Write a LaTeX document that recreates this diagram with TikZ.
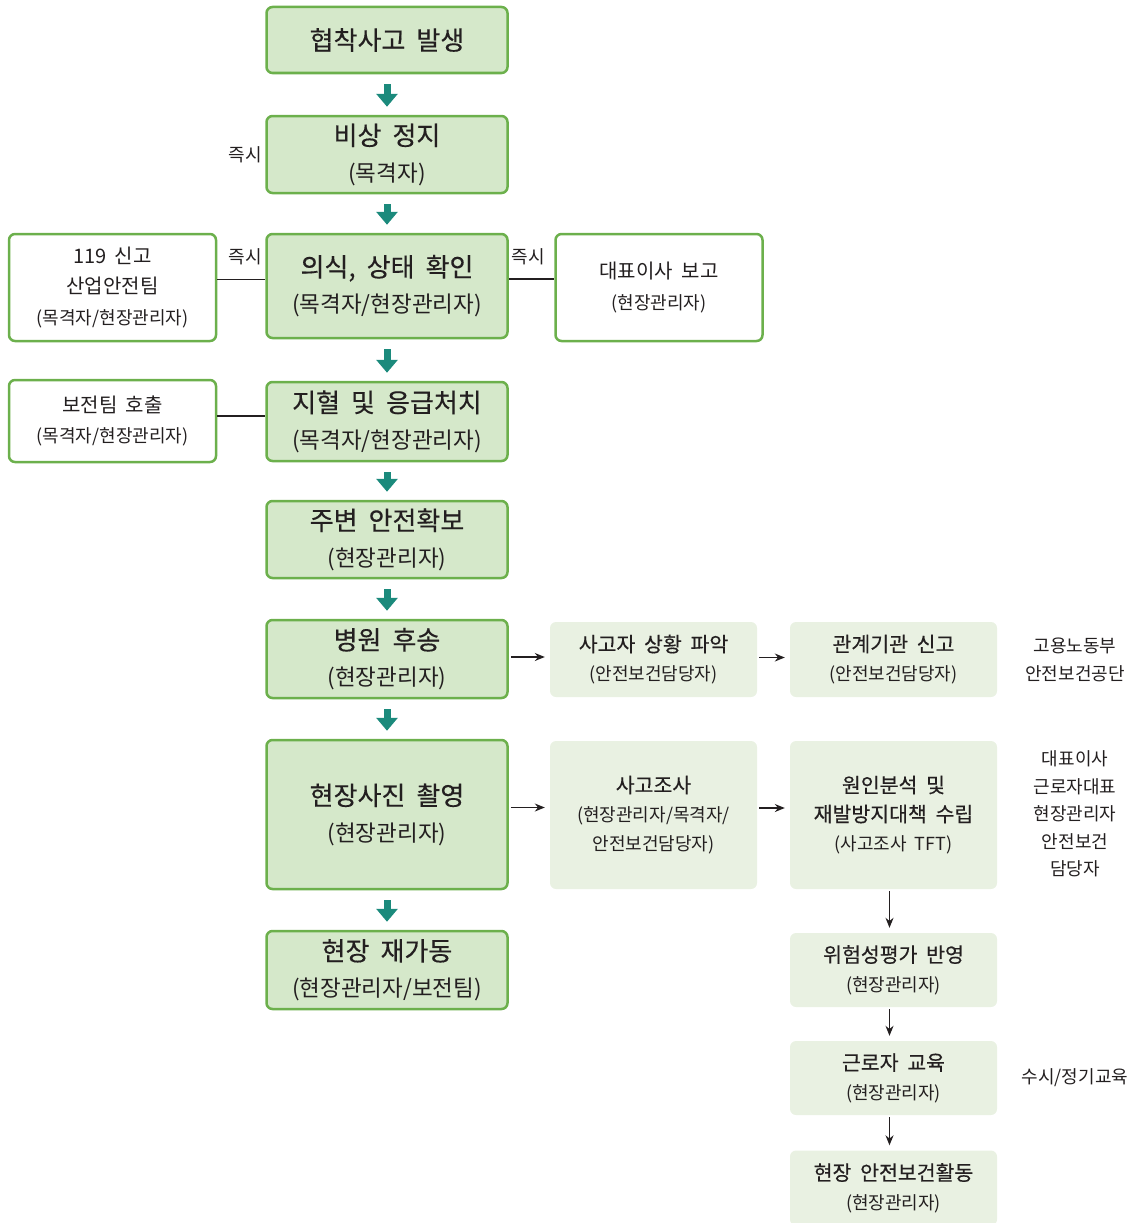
\documentclass[tikz,border=0pt]{standalone}
\usepackage{fontspec}
\setmainfont[WordSpace=1.9]{Noto Sans CJK KR}
\newfontfamily\titfont[FakeBold=0.4,WordSpace=1.9]{Noto Sans CJK KR}
\usetikzlibrary{arrows.meta,positioning}
\definecolor{mainfill}{HTML}{D5E8CA}
\definecolor{boxline}{HTML}{6CB04C}
\definecolor{lightfill}{HTML}{E9F1E2}
\definecolor{flowteal}{HTML}{1B8A7C}
\definecolor{ink}{HTML}{231F20}
\newcommand{\ttl}[1]{{\titfont\fontsize{26}{36}\selectfont #1}}
\newcommand{\stl}[1]{{\fontsize{20}{30.5}\selectfont #1}}
\newcommand{\ltl}[1]{{\titfont\fontsize{20.5}{29}\selectfont #1}}

\begin{document}
\begin{tikzpicture}[x=1pt,y=-1pt,text=ink]
            \tikzstyle{mainbox}=[draw=boxline,fill=mainfill,line width=2.5pt,rounded corners=6pt,minimum width=241pt,align=center,inner sep=0pt,font=\fontsize{22.5}{36}\selectfont]
            \tikzstyle{sidebox}=[draw=boxline,fill=white,line width=2.5pt,rounded corners=6pt,minimum width=207pt,align=center,inner sep=0pt,font=\fontsize{18}{30.5}\selectfont]
            \tikzstyle{lightbox}=[fill=lightfill,rounded corners=6pt,minimum width=207pt,align=center,inner sep=0pt,font=\fontsize{18}{29}\selectfont]
            \tikzstyle{note}=[align=center,inner sep=0pt,font=\fontsize{18}{27.5}\selectfont]
            \tikzstyle{bigarrow}=[draw=flowteal,line width=7pt,-{Triangle[width=21pt,length=13pt]},shorten <=10pt,shorten >=8pt]
            \tikzstyle{thinarrow}=[draw=ink,line width=1.3pt,-{Stealth[length=10pt,width=8pt]},shorten <=2pt,shorten >=5pt]
            \tikzstyle{link}=[draw=ink,line width=1.8pt]
            \useasboundingbox (0,0) rectangle (1134,1223);
            % main flow
            \node (m1) [mainbox,minimum height=66pt] at (387,40) {\ttl{협착사고 발생}};
            \node (m2) [mainbox,minimum height=77pt] at (387,154.5) {\ttl{비상 정지}\\(목격자)};
            \node (m3) [mainbox,minimum height=104pt] at (387,286) {\ttl{의식, 상태 확인}\\(목격자/현장관리자)};
            \node (m4) [mainbox,minimum height=79pt] at (387,421.5) {\ttl{지혈 및 응급처치}\\(목격자/현장관리자)};
            \node (m5) [mainbox,minimum height=77pt] at (387,539.5) {\ttl{주변 안전확보}\\(현장관리자)};
            \node (m6) [mainbox,minimum height=78pt] at (387,659) {\ttl{병원 후송}\\(현장관리자)};
            \node (m7) [mainbox,minimum height=149pt] at (387,814.5) {\ttl{현장사진 촬영}\\(현장관리자)};
            \node (m8) [mainbox,minimum height=78pt] at (387,970) {\ttl{현장 재가동}\\(현장관리자/보전팀)};
            % side boxes
            \node (l1) [sidebox,minimum height=107pt] at (112.5,287.5) {\stl{119 신고}\\\stl{산업안전팀}\\(목격자/현장관리자)};
            \node (l2) [sidebox,minimum height=82pt] at (112.5,421) {\stl{보전팀 호출}\\(목격자/현장관리자)};
            \node (r1) [sidebox,minimum height=107pt] at (659,287.5) {\stl{대표이사 보고}\\(현장관리자)};
            % follow-up
            \node (a1) [lightbox,minimum height=75pt] at (653.5,659.5) {\ltl{사고자 상황 파악}\\(안전보건담당자)};
            \node (b1) [lightbox,minimum height=75pt] at (893.5,659.5) {\ltl{관계기관 신고}\\(안전보건담당자)};
            \node (a2) [lightbox,minimum height=148pt] at (653.5,815) {\ltl{사고조사}\\(현장관리자/목격자/\\안전보건담당자)};
            \node (b2) [lightbox,minimum height=148pt] at (893.5,815) {\ltl{원인분석 및}\\\ltl{재발방지대책 수립}\\(사고조사 TFT)};
            \node (b3) [lightbox,minimum height=74pt] at (893.5,970) {\ltl{위험성평가 반영}\\(현장관리자)};
            \node (b4) [lightbox,minimum height=74pt] at (893.5,1078) {\ltl{근로자 교육}\\(현장관리자)};
            \node (b5) [lightbox,minimum height=75pt] at (893.5,1188) {\ltl{현장 안전보건활동}\\(현장관리자)};
            % notes
            \node (n1) [note] at (245,155) {즉시};
            \node (n2) [note] at (245,257) {즉시};
            \node (n3) [note] at (528,257) {즉시};
            \node (n4) [note] at (1075,660) {고용노동부\\안전보건공단};
            \node (n5) [note] at (1075,814) {대표이사\\근로자대표\\현장관리자\\안전보건\\담당자};
            \node (n6) [note] at (1075,1078) {수시/정기교육};
            % arrows
            \foreach \a/\b in {m1/m2,m2/m3,m3/m4,m4/m5,m5/m6,m6/m7,m7/m8}
                \draw[bigarrow] (\a) -- (\b);
            \draw[link] ([yshift=8pt]l1.east) -- ([yshift=8pt]l1.east -| m3.west);
            \draw[link] ([yshift=7pt]m3.east) -- ([yshift=7pt]m3.east -| r1.west);
            \draw[link] ([yshift=5pt]l2.east) -- ([yshift=5pt]l2.east -| m4.west);
            \draw[thinarrow] ([yshift=2pt]m6.east) -- ([yshift=2pt]m6.east -| a1.west);
            \draw[thinarrow] ([yshift=2pt]a1.east) -- ([yshift=2pt]a1.east -| b1.west);
            \draw[thinarrow] ([yshift=7pt]m7.east) -- ([yshift=7pt]m7.east -| a2.west);
            \draw[thinarrow] ([yshift=7pt]a2.east) -- ([yshift=7pt]a2.east -| b2.west);
            \draw[thinarrow] ([xshift=-4pt]b2.south) -- ([xshift=-4pt]b3.north);
            \draw[thinarrow] ([xshift=-4pt]b3.south) -- ([xshift=-4pt]b4.north);
            \draw[thinarrow] ([xshift=-4pt]b4.south) -- ([xshift=-4pt]b5.north);
        \end{tikzpicture}
\end{document}
